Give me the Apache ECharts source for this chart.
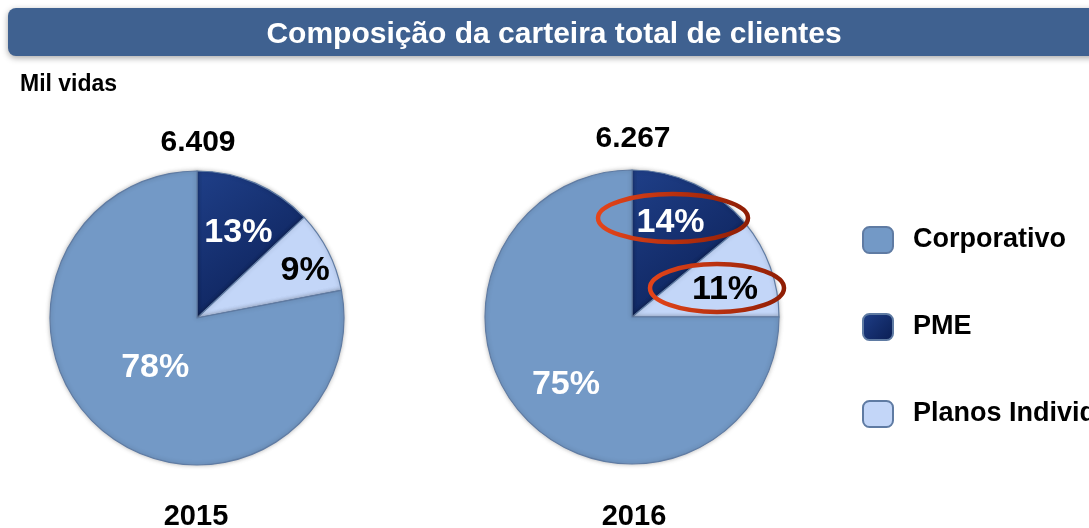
<!DOCTYPE html>
<html>
<head>
<meta charset="utf-8">
<script src="https://cdn.jsdelivr.net/npm/echarts@6/dist/echarts.min.js"></script>
<style>
  html, body { margin:0; padding:0; background:#fff; }
  #chart { width:1089px; height:528px; }
</style>
</head>
<body>
<div id="chart"></div>
<script>
// ---------- data ----------
const categories = ['Corporativo', 'PME', 'Planos Individuais'];
const years = ['2015', '2016'];
const totals = ['6.409', '6.267'];
const share2015 = { PME: 13, Planos: 9, Corporativo: 78 };
const share2016 = { PME: 14, Planos: 11, Corporativo: 75 };

// ---------- styles ----------
const FONT = 'Liberation Sans, Arial, sans-serif';
const colors = {
  'Corporativo': '#7399c6',
  'PME': { type:'linear', x:0, y:0, x2:1, y2:1, colorStops:[{offset:0, color:'#1f3f88'}, {offset:1, color:'#0a1d52'}] },
  'Planos Individuais': '#c3d6f8'
};
const labelColor = { 'Corporativo':'#fff', 'PME':'#fff', 'Planos Individuais':'#000' };
// nudges of the inside labels, in px, per pie and slice (PME, Planos, Corporativo)
const labelShift = [
  [[11,-15],[40,-13],[7,-9]],
  [[6,-25],[21,-1],[-12,14]]
];
const ring = { type:'linear', x:0, y:0, x2:1, y2:0, colorStops:[{offset:0, color:'#e5451a'}, {offset:1, color:'#8e1d04'}] };

function sliceData(s){
  return [
    { name:'PME', value:s.PME },
    { name:'Planos Individuais', value:s.Planos },
    { name:'Corporativo', value:s.Corporativo }
  ].map(d => ({
    ...d,
    itemStyle:{ color: colors[d.name] },
    label:{ color: labelColor[d.name] }
  }));
}

function pie(center, s, idx){
  return {
    type:'pie',
    center, radius:147,
    startAngle:90, clockwise:true,
    animation:false, silent:true,
    itemStyle:{ borderColor:'#5f7ba3', borderWidth:1.2, shadowBlur:4, shadowColor:'rgba(0,0,0,0.25)' },
    label:{ show:true, position:'inside', formatter:'{c}%', fontSize:34, fontWeight:'bold', fontFamily:FONT },
    labelLine:{ show:false },
    labelLayout: p => ({ dx: labelShift[idx][p.dataIndex][0], dy: labelShift[idx][p.dataIndex][1] }),
    data: sliceData(s)
  };
}

function heading(text, left, top, size, align){
  return { text, left, top, textAlign: align || 'center', padding:0,
    textStyle:{ color:'#000', fontSize:size, fontWeight:'bold', fontFamily:FONT } };
}

const chart = echarts.init(document.getElementById('chart'), null, { renderer:'canvas' });
chart.setOption({
  backgroundColor:'#fff',
  title:[
    { text:'Composição da carteira total de clientes', left:554, top:20, textAlign:'center', padding:0,
      textStyle:{ color:'#fff', fontSize:30, fontWeight:'bold', fontFamily:FONT } },
    heading('Mil vidas', 20, 73, 23, 'left'),
    heading(totals[0], 198, 128, 30),
    heading(totals[1], 633, 124, 30),
    heading(years[0], 196, 502, 29),
    heading(years[1], 634, 502, 29)
  ],
  legend:{
    orient:'vertical', left:862, top:226, padding:0,
    data:categories, icon:'roundRect', itemWidth:30, itemHeight:26, itemGap:59,
    selectedMode:false,
    textStyle:{ color:'#000', fontSize:27, fontWeight:'bold', fontFamily:FONT, padding:[0,0,0,15] }
  },
  graphic:[
    { type:'rect', z:-1, shape:{ x:8, y:8, width:1110, height:48, r:8 },
      style:{ fill:'#3f6190', shadowBlur:6, shadowOffsetY:2, shadowColor:'rgba(0,0,0,0.35)' } },
    { type:'ellipse', z:100, shape:{ cx:673, cy:218, rx:75, ry:24 },
      style:{ fill:null, lineWidth:4.5, stroke:ring } },
    { type:'ellipse', z:100, shape:{ cx:717, cy:288, rx:67, ry:24 },
      style:{ fill:null, lineWidth:4.5, stroke:ring } }
  ],
  series:[ pie([197,318], share2015, 0), pie([632,317], share2016, 1) ]
});
</script>
</body>
</html>
